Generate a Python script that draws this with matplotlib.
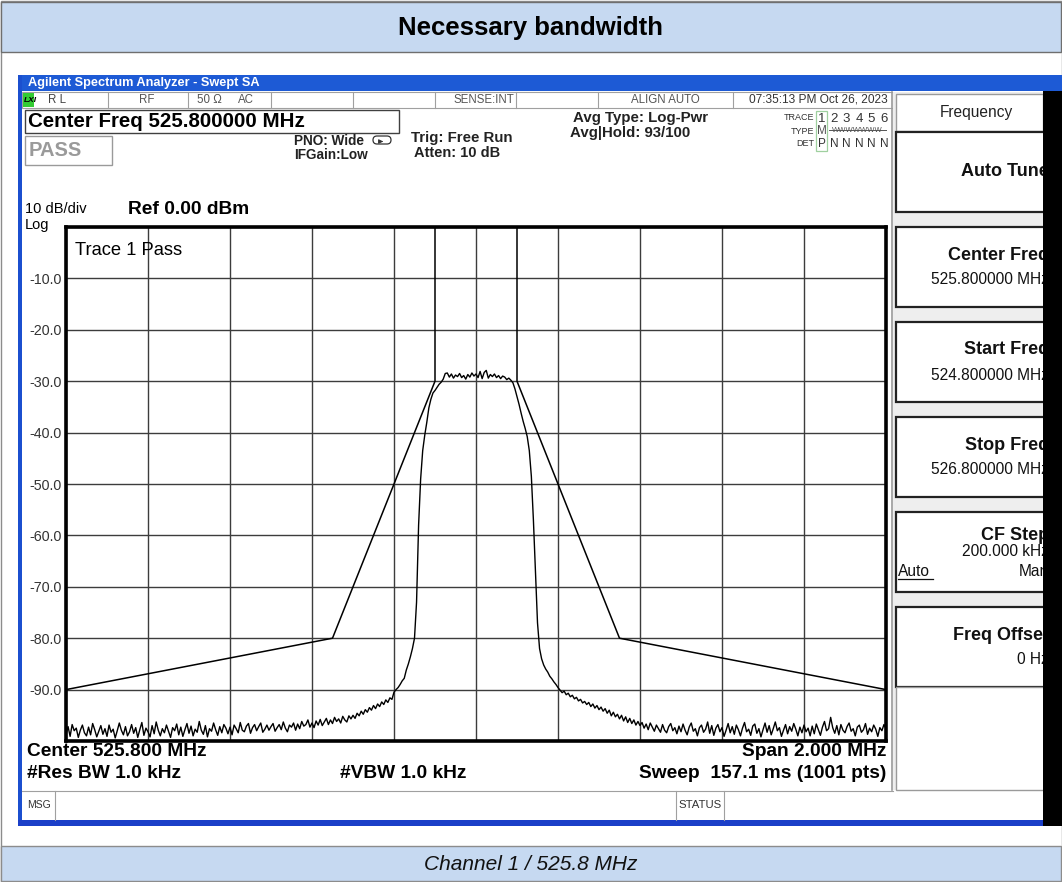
import numpy as np
import matplotlib.pyplot as plt
from matplotlib.patches import Rectangle, FancyBboxPatch

plt.rcParams['font.family'] = ['Liberation Sans', 'DejaVu Sans']

# sweep: 524.8 .. 526.8 MHz, every 5 kHz
f_start = 524.8
f_stop = 526.8
f_step = 0.005

# trace 1 level in dBm, one row per 100 kHz
trace_db = [
    -98.6, -97.2, -99.1, -96.8, -98.0, -97.5, -99.3, -97.9, -96.9, -98.4, -99.0, -97.3, -98.8, -96.6, -97.8, -99.2, -98.1, -97.0, -98.7, -97.6,
    -99.1, -96.9, -98.3, -97.7, -99.4, -98.0, -96.5, -97.9, -98.8, -97.2, -99.0, -98.2, -96.8, -98.5, -97.4, -99.3, -97.8, -96.4, -98.9, -97.5,
    -98.2, -99.2, -97.0, -98.6, -96.3, -97.9, -99.0, -97.6, -98.4, -96.9, -98.1, -99.3, -97.4, -98.0, -96.7, -98.8, -97.3, -99.1, -97.8, -96.6,
    -98.5, -97.1, -99.0, -97.7, -98.3, -96.2, -97.9, -98.7, -97.0, -99.2, -97.6, -98.1, -96.5, -97.8, -98.9, -97.2, -98.4, -96.8, -97.5, -98.6,
    -97.3, -98.8, -96.9, -97.6, -98.4, -96.4, -97.9, -98.2, -97.1, -96.6, -98.5, -97.4, -96.8, -98.0, -97.2, -96.5, -98.3, -97.7, -96.9, -97.9,
    -97.2, -96.6, -98.1, -97.4, -96.8, -97.8, -96.3, -97.5, -98.2, -96.9, -97.3, -96.5, -97.9, -96.7, -97.6, -96.2, -97.1, -96.8, -95.9, -97.3,
    -96.5, -97.4, -96.1, -96.9, -95.8, -97.0, -96.3, -95.6, -96.8, -95.9, -96.6, -95.4, -96.2, -95.7, -96.5, -95.2, -95.9, -96.3, -95.1, -95.7,
    -95.0, -95.6, -94.6, -95.1, -94.2, -94.8, -93.9, -94.4, -93.5, -94.0, -93.1, -93.7, -92.8, -93.3, -92.4, -92.9, -92.0, -92.5, -91.6, -91.9,
    -90.5, -90.0, -89.6, -89.0, -88.3, -87.8, -86.2, -85.0, -83.6, -82.0, -80.0, -73.0, -58.0, -49.0, -43.5, -40.5, -38.0, -35.2, -33.5, -32.3,
    -31.8, -31.2, -30.6, -30.2, -29.6, -28.5, -28.4, -29.2, -28.6, -29.4, -28.8, -29.1, -28.5, -29.3, -28.9, -29.6, -28.7, -29.2, -28.4, -29.0,
    -28.6, -29.3, -28.1, -29.5, -28.3, -27.9, -29.4, -28.7, -29.1, -28.6, -29.3, -28.9, -29.5, -29.0, -29.2, -29.7, -29.4, -29.8, -30.3, -31.5,
    -33.0, -34.5, -36.2, -37.8, -39.2, -40.8, -43.5, -48.5, -57.0, -67.0, -77.0, -82.0, -84.0, -85.2, -86.0, -86.6, -87.4, -87.9, -88.5, -89.0,
    -89.6, -90.1, -90.6, -90.3, -91.0, -90.7, -91.4, -91.1, -91.8, -91.5, -92.2, -91.9, -92.6, -92.3, -92.9, -92.5, -93.3, -92.8, -93.6, -93.1,
    -93.9, -93.4, -94.2, -93.7, -94.6, -94.0, -95.1, -94.4, -95.3, -94.8, -95.7, -95.0, -96.1, -95.3, -96.4, -95.6, -96.6, -95.9, -96.9, -96.2,
    -97.0, -96.4, -97.5, -96.7, -97.8, -96.5, -97.3, -98.1, -96.9, -97.6, -98.3, -96.8, -97.9, -98.4, -97.2, -96.6, -98.0, -97.4, -98.6, -97.1,
    -98.2, -96.7, -97.9, -98.8, -97.3, -96.5, -98.1, -97.6, -99.0, -97.4, -96.9, -98.3, -97.7, -96.3, -98.5, -97.0, -98.9, -97.5, -96.8, -98.2,
    -97.4, -99.1, -97.9, -96.6, -98.4, -97.2, -98.7, -96.9, -97.8, -99.0, -97.5, -96.4, -98.2, -97.7, -98.9, -97.1, -96.7, -98.5, -97.6, -99.2,
    -97.8, -96.5, -98.3, -97.0, -98.8, -97.6, -96.3, -98.0, -97.4, -99.1, -97.9, -96.8, -98.6, -97.2, -98.1, -96.6, -97.7, -99.0, -97.3, -98.4,
    -96.9, -98.2, -97.5, -99.0, -97.1, -98.6, -96.7, -97.8, -98.9, -97.3, -96.2, -98.0, -97.6, -95.4, -97.4, -98.5, -97.0, -98.8, -96.8, -97.9,
    -98.4, -97.2, -96.5, -98.1, -97.6, -99.0, -97.3, -96.9, -98.3, -97.8, -96.6, -98.7, -97.5, -98.2, -96.9, -97.7, -99.1, -97.4, -98.0, -96.8,
    -97.6,
]

# limit line (mask)
mask_f = [524.8, 525.45, 525.7, 525.7, 525.9, 525.9, 526.15, 526.8]
mask_db = [-90, -80, -30, 0, 0, -30, -80, -90]

x_ticks = [524.8, 525.0, 525.2, 525.4, 525.6, 525.8, 526.0, 526.2, 526.4, 526.6, 526.8]
y_ticks = [0, -10, -20, -30, -40, -50, -60, -70, -80, -90, -100]
y_labels = ['', '-10.0', '-20.0', '-30.0', '-40.0', '-50.0', '-60.0', '-70.0', '-80.0', '-90.0', '']

status_cells = ['R L', 'RF', '50 Ω', 'AC', 'SENSE:INT', 'ALIGN AUTO', '07:35:13 PM Oct 26, 2023']

softkeys = [('Auto Tune', ''), ('Center Freq', '525.800000 MHz'), ('Start Freq', '524.800000 MHz'),
            ('Stop Freq', '526.800000 MHz'), ('CF Step', '200.000 kHz'), ('Freq Offset', '0 Hz')]

freq = f_start + f_step * np.arange(len(trace_db))

fig = plt.figure(figsize=(10.62, 8.82), dpi=100)
bg = fig.add_axes([0, 0, 1, 1])
bg.set_xlim(0, 1062)
bg.set_ylim(882, 0)
bg.axis('off')


def box(x0, y0, x1, y1, fc, ec='none', lw=0, z=1):
    bg.add_patch(Rectangle((x0, y0), x1 - x0, y1 - y0, facecolor=fc,
                           edgecolor=ec, linewidth=lw, zorder=z))


def txt(x, y, s, size, ha='left', weight='normal', color='black', z=3, **kw):
    bg.text(x, y, s, fontsize=size, ha=ha, va='center', fontweight=weight,
            color=color, zorder=z, **kw)


# report frame, heading and caption bands
box(0.5, 0.5, 1061.5, 881.5, 'white', '#8c8c8c', 1)
box(1, 2, 1061, 52, '#c6d9f1', '#6f6f6f', 1)
txt(531, 28, 'Necessary bandwidth', 18.5, ha='center', weight='bold')
box(1, 846, 1061, 881, '#c6d9f1', '#8c8c8c', 1)
txt(531, 864, 'Channel 1 / 525.8 MHz', 15, ha='center', style='italic', color='#111111')

# analyzer window
box(18, 75, 1062, 826, 'white', z=1)
box(18, 75, 1062, 91, '#1d5ad5', z=2)
box(18, 75, 22, 826, '#1b4fcf', z=2)
box(18, 820, 1043, 826, '#1b3fc8', z=2)
box(1043, 91, 1062, 826, 'black', z=6)
txt(28, 83, 'Agilent Spectrum Analyzer - Swept SA', 9.2, weight='bold', color='white')

# status bar
box(22, 92, 893, 108, 'white', '#a0a0a0', 0.8)
for xs in [108, 188, 271, 353, 435, 516, 598, 733]:
    bg.plot([xs, xs], [92, 108], color='#a0a0a0', lw=0.8, zorder=2)
box(23, 93, 34, 107, '#33cc33', z=2)
txt(24, 100, 'LXI', 6, weight='bold', style='italic')
txt(48, 100, status_cells[0], 8.3, color='#444444')
txt(147, 100, status_cells[1], 8.3, ha='center', color='#555555')
txt(197, 100, status_cells[2], 8.3, color='#555555')
txt(238, 100, status_cells[3], 8.3, color='#555555')
txt(514, 100, status_cells[4], 8.3, ha='right', color='#555555')
txt(665, 100, status_cells[5], 8.3, ha='center', color='#555555')
txt(888, 100, status_cells[6], 8.6, ha='right', color='#333333')

# setting readouts
box(25, 110, 399, 133, 'white', '#404040', 1)
txt(28, 121.5, 'Center Freq 525.800000 MHz', 14.8, weight='bold')
box(25, 136, 112, 165, 'white', '#9a9a9a', 1)
txt(29, 150, 'PASS', 14.5, weight='bold', color='#9a9a9a')
txt(364, 141, 'PNO: Wide', 9.8, ha='right', weight='bold', color='#222222')
bg.add_patch(FancyBboxPatch((373, 136), 18, 8, boxstyle='round,pad=0,rounding_size=4',
                            facecolor='white', edgecolor='#333333', lw=0.9, zorder=3))
bg.annotate('', xy=(386, 141.5), xytext=(378, 141.5),
            arrowprops=dict(arrowstyle='-|>', lw=0.8, color='#333333', mutation_scale=6), zorder=4)
txt(294, 155, 'IFGain:Low', 9.8, weight='bold', color='#222222')
txt(411, 138, 'Trig: Free Run', 10.8, weight='bold', color='#222222')
txt(414, 153, 'Atten: 10 dB', 10.5, weight='bold', color='#222222')
txt(573, 118, 'Avg Type: Log-Pwr', 10.8, weight='bold', color='#222222')
txt(570, 133, 'Avg|Hold: 93/100', 10.8, weight='bold', color='#222222')

txt(814, 118, 'TRACE', 6.5, ha='right', color='#333333')
txt(814, 131, 'TYPE', 6.5, ha='right', color='#333333')
txt(814, 144, 'DET', 6.5, ha='right', color='#333333')
box(816, 111, 827, 151, 'none', '#9fd09f', 0.9, z=2)
for k, d in enumerate(['1', '2', '3', '4', '5', '6']):
    txt(821.5 + 12.5 * k, 119, d, 9.5, ha='center', color='#333333')
txt(821.5, 131, 'M', 8.5, ha='center', color='#555555')
txt(857, 130, 'WWWWWWW', 5.5, ha='center', color='#555555')
bg.plot([829, 886], [130, 130], color='#555555', lw=0.7, zorder=4)
txt(821.5, 144, 'P', 8.5, ha='center', color='#333333')
for k in range(1, 6):
    txt(821.5 + 12.5 * k, 144, 'N', 8.5, ha='center', color='#333333')

txt(25, 209, '10 dB/div', 10.5)
txt(25, 225, 'Log', 10.5)
txt(128, 209, 'Ref 0.00 dBm', 13.8, weight='bold')

# bottom annotations
txt(27, 752, 'Center 525.800 MHz', 13.8, weight='bold')
txt(27, 773, '#Res BW 1.0 kHz', 13.8, weight='bold')
txt(340, 773, '#VBW 1.0 kHz', 13.8, weight='bold')
txt(886, 752, 'Span 2.000 MHz', 13.8, ha='right', weight='bold')
txt(886, 773, 'Sweep  157.1 ms (1001 pts)', 13.8, ha='right', weight='bold')
bg.plot([22, 893], [791, 791], color='#a0a0a0', lw=0.8, zorder=2)
for xs in [55, 676, 724]:
    bg.plot([xs, xs], [791, 820], color='#a0a0a0', lw=0.8, zorder=2)
txt(27, 805, 'MSG', 7.5, color='#333333')
txt(678, 805, 'STATUS', 8.2, color='#333333')

# softkey panel
box(893, 92, 1043, 790, '#eeeeee', z=1)
bg.plot([892, 892], [92, 790], color='#9a9a9a', lw=1.2, zorder=2)
box(896, 94, 1043, 131, 'white', '#9a9a9a', 1, z=2)
txt(976, 112, 'Frequency', 11.2, ha='center', color='#222222')
key_rows = [(132, 212), (227, 307), (322, 402), (417, 497), (512, 592), (607, 687)]
for (label, value), (y0, y1) in zip(softkeys, key_rows):
    box(896, y0, 1050, y1, 'white', '#222222', 1.6, z=2)
    if value == '':
        txt(1049, (y0 + y1) / 2, label, 13, ha='right', weight='bold', color='#111111')
    elif label == 'CF Step':
        txt(1049, y0 + 24, label, 13, ha='right', weight='bold', color='#111111')
        txt(1049, y0 + 40, value, 11.2, ha='right', color='#111111')
        txt(898, y0 + 59, 'Auto', 11.2, color='#111111')
        bg.plot([898, 933], [y0 + 67, y0 + 67], color='#111111', lw=0.9, zorder=4)
        txt(1049, y0 + 59, 'Man', 11.2, ha='right', color='#111111')
    else:
        txt(1049, y0 + 28, label, 13, ha='right', weight='bold', color='#111111')
        txt(1049, y0 + 53, value, 11.2, ha='right', color='#111111')
box(896, 687, 1050, 790, 'white', '#9a9a9a', 1, z=2)

# spectrum display
ax = fig.add_axes([66 / 1062, 1 - 741 / 882, 820 / 1062, 514 / 882])
ax.set_xlim(f_start, f_stop)
ax.set_ylim(-100, 0)
ax.set_xticks(x_ticks)
ax.set_xticklabels([])
ax.set_yticks(y_ticks)
ax.set_yticklabels(y_labels, fontsize=10.3, color='#333333')
ax.tick_params(length=0, pad=3)
ax.grid(True, color='#3c3c3c', lw=1)
for sp in ax.spines.values():
    sp.set_linewidth(2.6)
    sp.set_color('black')
ax.plot(mask_f, mask_db, color='black', lw=1.1)
ax.plot(freq, trace_db, color='black', lw=1.0)
ax.text(0.011, 0.955, 'Trace 1 Pass', transform=ax.transAxes, fontsize=13.2, va='center')

fig.savefig('out.png', dpi=100)
